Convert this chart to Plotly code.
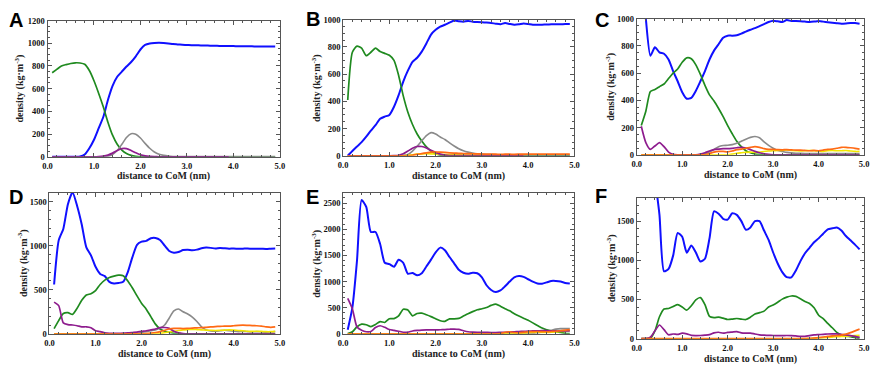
import plotly.graph_objects as go

W, H = 879, 369
# sampling positions (nm)
X = [round(0.1 * i, 1) for i in range(1, 50)]
Z10 = [0] * 10

# ---------------- Panel A ----------------
A_blue = [0, 0, 0, 0, 0, 0, 2, 20, 75, 150,
          250, 350, 500, 625, 705, 750, 795, 835, 885, 945,
          985, 998, 1003, 1005, 1002, 998, 993, 990, 987, 985,
          983, 982, 981, 980, 979, 978, 977, 976, 975, 975,
          974, 974, 973, 973, 972, 972, 972, 972, 972]
A_green = [740, 770, 800, 812, 822, 828, 826, 815, 760, 670,
           560, 440, 305, 190, 110, 58, 28, 12, 4, 0] + [0] * 29
A_gray = Z10 + [0, 0, 5, 20, 55, 110, 170, 203, 198, 165,
                118, 75, 42, 22, 12, 6, 3, 2, 1, 1] + [1] * 19
A_purple = Z10 + [2, 6, 15, 32, 55, 72, 72, 55, 35, 18,
                  8, 3, 1] + [0] * 16

# ---------------- Panel B ----------------
B_blue = [0, 35, 68, 100, 140, 185, 225, 272, 288, 300,
          360, 445, 545, 625, 690, 720, 765, 825, 890, 925,
          948, 962, 978, 993, 988, 985, 990, 985, 982, 980,
          978, 975, 970, 966, 975, 968, 962, 965, 972, 968,
          962, 962, 963, 964, 965, 966, 966, 967, 967]
B_green = [410, 760, 805, 790, 735, 760, 790, 765, 752, 738,
           700, 590, 440, 320, 230, 160, 108, 65, 35, 15,
           5] + [0] * 28
B_gray = Z10 + [0, 0, 3, 10, 35, 70, 110, 148, 170, 160,
                138, 120, 95, 72, 52, 37, 27, 20, 15, 12,
                10, 9, 8, 8, 7, 7, 6, 6, 6, 6] + [6] * 9
B_purple = Z10 + [1, 4, 15, 35, 55, 68, 68, 58, 40, 25,
                  12, 5] + [2] * 17
B_orange = Z10 + [0, 0, 0, 0, 4, 10, 16, 22, 27, 28,
                  27, 25, 22, 20, 18, 17, 16, 15, 14, 13,
                  12, 12, 12, 11, 12, 12, 11, 12, 13, 13,
                  13, 12, 12, 13, 13, 12, 12, 12, 12]
B_yellow = Z10 + [0, 0, 0, 3, 8, 12, 14, 15, 14, 12,
                  10, 9, 8, 8, 7, 6] + [6] * 13

# ---------------- Panel C ----------------
C_blue = [1400, 1000, 728, 790, 752, 742, 700, 615, 540, 460,
          412, 418, 470, 540, 615, 700, 765, 812, 860, 875,
          875, 878, 890, 905, 918, 930, 945, 960, 975, 985,
          980, 975, 990, 982, 982, 980, 978, 976, 978, 982,
          978, 974, 970, 966, 963, 965, 968, 967, 962]
C_green = [215, 320, 465, 480, 500, 520, 560, 600, 630, 680,
           712, 705, 660, 590, 510, 440, 395, 340, 280, 215,
           155, 100, 60, 30, 15, 6, 2] + [0] * 22
C_gray = Z10 + [0, 0, 0, 3, 8, 20, 40, 60, 68, 70,
                75, 85, 100, 115, 128, 135, 125, 95, 70, 48,
                32, 25, 18, 14, 12, 11, 10, 10, 10, 10] + [10] * 9
C_purple = [210, 90, 40, 65, 90, 60, 20, 3, 0, 0,
            0, 0, 0, 5, 15, 28, 38, 42, 45, 45,
            48, 52, 55, 50, 38, 25, 15, 8, 3] + [0] * 20
C_orange = Z10 + [0, 0, 0, 0, 0, 10, 20, 25, 25, 22,
                  28, 38, 42, 48, 55, 60, 55, 45, 40, 40,
                  38, 37, 38, 36, 35, 34, 32, 30, 32, 30,
                  35, 40, 42, 48, 55, 55, 52, 48, 42]
C_yellow = Z10 + Z10 + [5, 12, 15, 18, 20, 18, 20, 25, 28, 30,
                        32, 33, 35, 32, 30, 28, 30, 32, 30, 28,
                        25, 30, 32, 30, 30, 32, 28, 25, 25]

# ---------------- Panel D ----------------
D_blue = [560, 1060, 1190, 1470, 1605, 1450, 1240, 980, 890, 760,
          680, 655, 590, 572, 577, 590, 700, 870, 1010, 1045,
          1055, 1085, 1088, 1065, 1000, 940, 920, 928, 950, 955,
          948, 955, 970, 978, 975, 968, 975, 970, 966, 968,
          965, 966, 968, 964, 966, 965, 962, 965, 968]
D_green = [60, 150, 230, 240, 220, 290, 380, 440, 455, 490,
           560, 610, 640, 655, 665, 660, 600, 520, 430, 345,
           280, 195, 110, 55, 30, 15, 7, 3] + [0] * 21
D_gray = Z10 + [0, 0, 0, 0, 0, 0, 0, 0, 5, 15,
                25, 35, 45, 65, 100, 180, 260, 282, 250, 225,
                190, 140, 80, 45, 32, 30, 35, 40, 36, 30,
                25, 28, 25, 22, 25, 22, 20, 22, 25]
D_purple = [360, 320, 125, 105, 100, 92, 80, 80, 70, 35,
            26, 12, 6, 5, 6, 8, 10, 15, 20, 28,
            35, 45, 55, 70, 72, 62, 30, 12, 4] + [0] * 20
D_orange = Z10 + Z10 + [3, 8, 15, 25, 40, 55, 62, 62, 60, 62,
                        65, 68, 70, 74, 78, 82, 85, 87, 88, 92,
                        96, 98, 96, 94, 92, 88, 80, 74, 78]
D_yellow = Z10 + Z10 + [0, 0, 0, 5, 12, 20, 30, 38, 45, 48,
                        50, 48, 45, 42, 40, 38, 40, 42, 45, 42,
                        38, 35, 30, 28, 30, 28, 25, 25, 28]

# ---------------- Panel E ----------------
E_blue = [80, 500, 1400, 2560, 2430, 1950, 1950, 1720, 1360, 1335,
          1285, 1420, 1360, 1150, 1165, 1120, 1160, 1290, 1420, 1560,
          1650, 1600, 1470, 1350, 1225, 1170, 1150, 1170, 1160, 1080,
          930, 840, 800, 830, 910, 1000, 1080, 1105, 1090, 1045,
          1000, 965, 960, 985, 1012, 1012, 1000, 975, 962]
E_green = [5, 40, 135, 185, 175, 138, 180, 235, 218, 290,
           292, 345, 470, 455, 345, 390, 395, 365, 330, 290,
           250, 240, 285, 285, 295, 340, 385, 425, 460, 480,
           505, 545, 570, 530, 480, 440, 385, 340, 300, 260,
           210, 160, 110, 75, 58, 40, 25, 10, 3]
E_gray = Z10 * 3 + [0, 0, 0, 0, 0, 0, 0, 0, 2, 5,
                    10, 20, 35, 50, 70, 90, 100, 100, 100]
E_purple = [680, 480, 130, 68, 40, 45, 120, 155, 125, 82,
            68, 50, 30, 32, 55, 65, 72, 75, 74, 75,
            78, 82, 88, 92, 85, 60, 40, 33, 30, 30,
            28, 25, 25, 28, 30, 35, 40, 45, 48, 52,
            55, 58, 60, 60, 58, 55, 55, 55, 55]
E_orange = Z10 * 3 + [0, 0, 0, 5, 30, 40, 25, 20, 30, 40,
                      42, 45, 42, 40, 45, 50, 60, 70, 80]
E_yellow = Z10 * 3 + [0, 0, 0, 0, 0, 0, 0, 5, 10, 20,
                      25, 30, 28, 25, 30, 35, 45, 50, 60]

# ---------------- Panel F ----------------
F_blue = [None, None, None, 2050, 1580, 860, 890, 1060, 1350, 1300,
          1098, 1190, 1100, 985, 1020, 1280, 1625, 1595, 1530, 1520,
          1600, 1580, 1500, 1390, 1420, 1500, 1500, 1380, 1260, 1100,
          960, 850, 785, 782, 870, 990, 1090, 1160, 1230, 1280,
          1340, 1395, 1408, 1418, 1380, 1310, 1255, 1200, 1140]
F_green = [0, 0, 5, 100, 280, 380, 385, 410, 435, 405,
           365, 420, 495, 525, 435, 285, 270, 275, 262, 245,
           250, 258, 250, 245, 275, 315, 332, 352, 405, 430,
           465, 505, 530, 545, 540, 510, 475, 450, 394, 300,
           255, 195, 140, 80, 48, 33, 25, 12, 3]
F_gray = Z10 * 3 + [0, 0, 0, 0, 0, 0, 0, 2, 5, 10,
                    15, 22, 30, 35, 40, 40, 35, 30, 25]
F_purple = [0, 2, 20, 100, 175, 115, 50, 60, 55, 70,
            62, 42, 40, 41, 45, 52, 75, 82, 70, 80,
            85, 90, 75, 72, 72, 60, 50, 45, 42, 41,
            40, 40, 41, 40, 35, 30, 30, 40, 48, 52,
            56, 60, 62, 62, 56, 48, 40, 29, 12]
F_orange = Z10 * 3 + [0, 0, 0, 0, 0, 0, 0, 3, 8, 15,
                      22, 30, 35, 40, 45, 58, 78, 100, 122]
F_yellow = Z10 * 3 + [0, 0, 0, 0, 0, 0, 0, 2, 5, 8,
                      12, 15, 20, 25, 28, 30, 35, 40, 42]

COLORS = {"blue": "#1010FF", "green": "#1F8A1F", "gray": "#8A8A8A",
          "yellow": "#F2E600", "purple": "#8E1C8E", "orange": "#FF6A14"}
WIDTHS = {"blue": 2.0, "green": 1.7, "gray": 1.6, "yellow": 1.6,
          "purple": 1.7, "orange": 1.7}

panels = [
    ("A", dict(blue=A_blue, green=A_green, gray=A_gray, purple=A_purple),
     (43, 278, 16, 156), 1200, 200, 50, (2, 2), (15, 176)),
    ("B", dict(blue=B_blue, green=B_green, gray=B_gray, yellow=B_yellow,
               purple=B_purple, orange=B_orange),
     (342, 576, 15, 155), 1000, 200, 50, (302, 1), (315, 176)),
    ("C", dict(blue=C_blue, green=C_green, gray=C_gray, yellow=C_yellow,
               purple=C_purple, orange=C_orange),
     (639, 869, 14, 154), 1000, 200, 50, (595, 2), (613, 175)),
    ("D", dict(blue=D_blue, green=D_green, gray=D_gray, yellow=D_yellow,
               purple=D_purple, orange=D_orange),
     (45, 278, 193, 338), 1600, 500, 100, (2, 184), (18, 359)),
    ("E", dict(blue=E_blue, green=E_green, gray=E_gray, yellow=E_yellow,
               purple=E_purple, orange=E_orange),
     (342, 576, 193, 338), 2700, 500, 100, (302, 184), (315, 359)),
    ("F", dict(blue=F_blue, green=F_green, gray=F_gray, yellow=F_yellow,
               purple=F_purple, orange=F_orange),
     (639, 869, 198, 343), 1800, 500, 100, (595, 183), (613, 363.5)),
]

ORDER = ["blue", "green", "gray", "yellow", "purple", "orange"]
fig = go.Figure()
layout = {}
annotations = []
TICKFONT = dict(family="Liberation Serif", size=8.5, color="#111", weight="bold")
FRAME = "#555555"

for i, (letter, series, (x0, x1, y0, y1), ymax, ydt, ymin_dt, lpos, tpos) in enumerate(panels):
    k = "" if i == 0 else str(i + 1)
    for name in ORDER:
        if name not in series:
            continue
        fig.add_trace(go.Scatter(
            x=X, y=series[name], mode="lines", xaxis="x" + k, yaxis="y" + k,
            line=dict(color=COLORS[name], width=WIDTHS[name], shape="spline", smoothing=0.6),
            connectgaps=False, showlegend=False, hoverinfo="skip"))
    common = dict(showline=True, linecolor=FRAME, linewidth=1, mirror="allticks",
                  ticks="inside", ticklen=4, tickwidth=1, tickcolor=FRAME,
                  showgrid=False, zeroline=False, tickfont=TICKFONT)
    layout["xaxis" + k] = dict(common, domain=[x0 / W, x1 / W], anchor="y" + k,
                               range=[0, 5], dtick=1, tick0=0, tickformat=".1f",
                               ticklabelstandoff=1,
                               minor=dict(ticks="inside", ticklen=2, dtick=0.2,
                                          tickcolor=FRAME, showgrid=False))
    layout["yaxis" + k] = dict(common, domain=[1 - y1 / H, 1 - y0 / H], anchor="x" + k,
                               range=[0, ymax], dtick=ydt, tick0=0,
                               minor=dict(ticks="inside", ticklen=2, dtick=ymin_dt,
                                          tickcolor=FRAME, showgrid=False))
    annotations.append(dict(text="<b>%s</b>" % letter, xref="paper", yref="paper",
                            x=lpos[0] / W, y=1 - lpos[1] / H, xanchor="left", yanchor="top",
                            showarrow=False,
                            font=dict(family="Liberation Sans", size=20, color="black")))
    annotations.append(dict(text="<b>distance to CoM (nm)</b>", xref="paper", yref="paper",
                            x=(x0 + x1) / 2 / W, y=1 - tpos[1] / H, xanchor="center",
                            yanchor="middle", showarrow=False,
                            font=dict(family="Liberation Serif", size=10, color="#222")))
    annotations.append(dict(text="<b>density (kg·m<sup>-3</sup>)</b>", xref="paper", yref="paper",
                            x=tpos[0] / W, y=1 - (y0 + y1) / 2 / H, xanchor="center",
                            yanchor="middle", textangle=-90, showarrow=False,
                            font=dict(family="Liberation Serif", size=10, color="#222")))

fig.update_layout(width=W, height=H, margin=dict(l=0, r=0, t=0, b=0),
                  paper_bgcolor="white", plot_bgcolor="white",
                  annotations=annotations, **layout)
fig.write_html("out.html", config={"displayModeBar": False, "staticPlot": True},
               post_script="document.body.style.margin='0';document.body.style.overflow='hidden';")
